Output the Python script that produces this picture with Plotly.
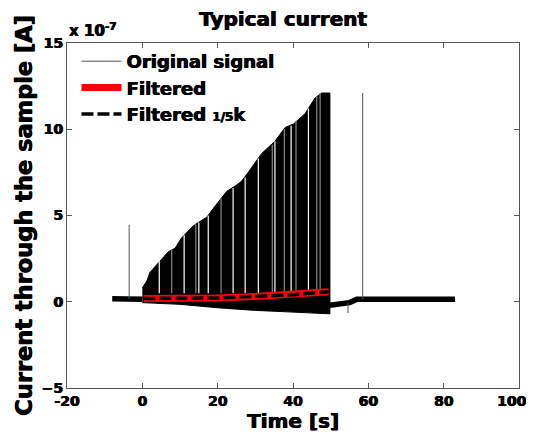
import plotly.graph_objects as go

# ---- data (current in units of 1e-7 A, time in s) ----
# envelope of the dense pulsed region (top edge)
env_t = [0.0, 0.3, 1.2, 2.0, 3.4, 4.7, 6.9, 8.7, 10.4, 11.3, 13.5, 14.9, 17.1, 18.8,
         20.6, 22.4, 24.6, 26.4, 28.1, 31.7, 35.2, 37.9, 40.1, 43.2, 45.8, 47.6, 49.8]
env_v = [0.8, 0.9, 1.2, 1.7, 2.05, 2.4, 2.9, 3.1, 3.7, 3.9, 4.4, 4.6, 4.9, 5.4,
         5.9, 6.4, 6.7, 7.0, 7.5, 8.6, 9.3, 10.1, 10.3, 10.9, 11.8, 12.1, 12.1]
# bottom edge of the dense region
low_t = [49.8, 40.0, 30.0, 20.0, 10.0, 0.0]
low_v = [-0.7, -0.6, -0.5, -0.35, -0.15, -0.05]

# quiet baseline before and after the pulsed region
pre_t = [-8.0, -4.0, 0.0]
pre_v = [0.17, 0.17, 0.15]
post_t = [49.8, 52.0, 55.0, 57.0, 70.0, 83.0]
post_v = [-0.2, -0.15, -0.05, 0.15, 0.15, 0.15]

# isolated spikes of the original signal
spike_t = [-3.5, 54.6, 58.5]
spike_base = [0.17, -0.05, 0.15]
spike_v = [4.45, -0.65, 12.1]

# pauses between pulse trains (white) and partly covered pauses (grey)
gapw_t = [4.5, 11.1, 15.0, 17.5, 24.1, 27.3, 30.8, 35.2, 39.5, 44.1]
gapw_top = [2.35, 3.85, 4.6, 5.0, 6.6, 7.2, 8.3, 9.3, 10.2, 11.2]
gapg_t = [7.8, 14.2, 20.9, 34.5, 37.7, 40.8, 46.3, 47.2]
gapg_top = [3.0, 4.5, 6.0, 9.1, 10.0, 10.5, 11.9, 12.1]
gap_bottom = 0.5

# filtered signal
filt_t = [0.3, 10.0, 20.0, 30.0, 40.0, 49.5]
filt_v = [0.19, 0.19, 0.22, 0.31, 0.41, 0.58]

x_ticks = [-20, 0, 20, 40, 60, 80, 100]
x_tick_labels = ["-20", "0", "20", "40", "60", "80", "100"]
y_ticks = [-5, 0, 5, 10, 15]

FONT = "DejaVu Sans"
HEAVY = "0.6px 0px 0px black, -0.3px 0px 0px black"
NBSP = "\u00a0"

fig = go.Figure()

# dense pulsed region as a filled envelope
fig.add_trace(go.Scatter(
    x=env_t + low_t, y=env_v + low_v, mode="lines", fill="toself",
    fillcolor="black", line=dict(color="black", width=1),
    showlegend=False, hoverinfo="skip"))


def vlines(ts, bottoms, tops):
    xs, ys = [], []
    for t, b, top in zip(ts, bottoms, tops):
        xs += [t, t, None]
        ys += [b, top, None]
    return xs, ys


gx, gy = vlines(gapw_t, [gap_bottom] * len(gapw_t), gapw_top)
fig.add_trace(go.Scatter(x=gx, y=gy, mode="lines", line=dict(color="white", width=1.2),
                         showlegend=False, hoverinfo="skip"))
gx, gy = vlines(gapg_t, [gap_bottom] * len(gapg_t), gapg_top)
fig.add_trace(go.Scatter(x=gx, y=gy, mode="lines", line=dict(color="#8a8a8a", width=1.2),
                         showlegend=False, hoverinfo="skip"))

# baseline (noisy band)
fig.add_trace(go.Scatter(
    x=pre_t + [None] + post_t, y=pre_v + [None] + post_v, mode="lines",
    line=dict(color="black", width=5.5), showlegend=False, hoverinfo="skip"))

# spikes + legend entry for original signal
sx, sy = vlines(spike_t, spike_base, spike_v)
fig.add_trace(go.Scatter(x=sx, y=sy, mode="lines", name="Original signal",
                         line=dict(color="#555555", width=1)))

# filtered
fig.add_trace(go.Scatter(x=filt_t, y=filt_v, mode="lines", name="Filtered",
                         line=dict(color="#ff0000", width=7)))
fig.add_trace(go.Scatter(x=filt_t, y=filt_v, mode="lines",
                         name="Filtered <span style='font-size:12px'>1/5</span>k",
                         line=dict(color="black", width=3.5, dash="12px,4px")))

axis_common = dict(showgrid=False, zeroline=False, showline=True, linecolor="#555555",
                   linewidth=1.2, mirror="ticks", ticks="inside", ticklen=5,
                   tickcolor="#555555", ticklabeloverflow="allow", automargin=False,
                   tickfont=dict(family=FONT, size=14, color="black", weight="bold",
                                 shadow=HEAVY))

# keep the last x label inside the visible page
x_text = x_tick_labels[:-1] + [x_tick_labels[-1] + NBSP * 3]

# page body adds an 8px offset; figure is sized so the page does not scroll
W, H = 526, 427
fig.update_layout(
    width=W, height=H,
    margin=dict(l=59, r=15, t=35, b=47),
    paper_bgcolor="white", plot_bgcolor="white",
    title=dict(text="Typical current", x=275 / W, xanchor="center", y=1 - 11 / H,
               yanchor="middle",
               font=dict(family=FONT, size=20, color="black", weight="bold", shadow=HEAVY)),
    xaxis=dict(range=[-20, 100], tickvals=x_ticks, ticktext=x_text,
               title=dict(text="Time [s]", standoff=6,
                          font=dict(family=FONT, size=20, color="black", weight="bold",
                                    shadow=HEAVY)),
               **axis_common),
    yaxis=dict(range=[-5, 15], tickvals=y_ticks,
               title=dict(text="Current through the sample [A]", standoff=2,
                          font=dict(family=FONT, size=22.5, color="black", weight="bold",
                                    shadow=HEAVY)),
               **axis_common),
    legend=dict(x=0.021, y=1.0, xanchor="left", yanchor="top", bgcolor="rgba(0,0,0,0)",
                font=dict(family=FONT, size=18, color="black", weight="bold", shadow=HEAVY),
                tracegroupgap=0, itemwidth=40),
    showlegend=True,
    annotations=[dict(text="x 10<sup>-7</sup>", xref="paper", yref="paper", x=0.0, y=1.0,
                      xanchor="left", yanchor="bottom", showarrow=False, yshift=1,
                      font=dict(family=FONT, size=15, color="black", weight="bold",
                                shadow=HEAVY))],
)

fig.write_html("out.html")
